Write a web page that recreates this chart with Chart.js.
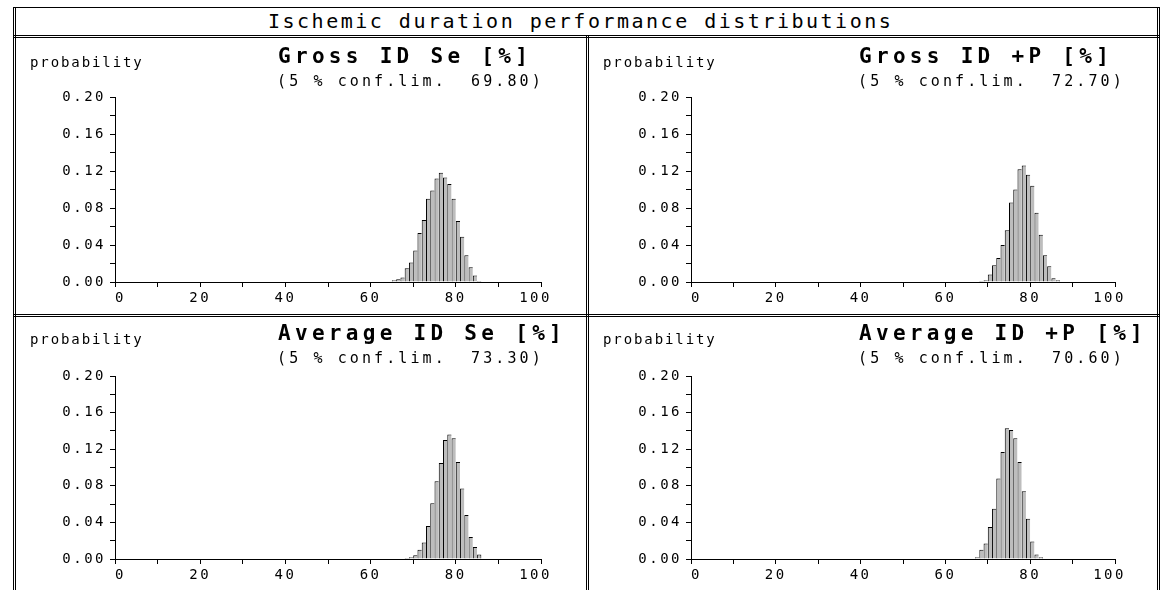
<!DOCTYPE html>
<html>
<head>
<meta charset="utf-8">
<script src="https://cdn.jsdelivr.net/npm/chart.js@4.4.0/dist/chart.umd.min.js"></script>
<style>
body{margin:0;background:#fff;width:1162px;height:590px;overflow:hidden;position:relative;font-family:"DejaVu Sans Mono",monospace;color:#000}
.hl{position:absolute;height:0;border-top:3px double #000}
.vl{position:absolute;width:0;border-left:3px double #000}
.t{position:absolute;white-space:pre;line-height:1}
.small{font-size:14px}
.sub{font-size:15px;letter-spacing:3.1px}
.big{font-size:21px;font-weight:bold;letter-spacing:4.3px}
.panel{position:absolute}
</style>
</head>
<body>
<!-- frame -->
<div style="position:absolute;left:13px;top:7px;width:1147px;height:1px;background:#000"></div>
<div class="vl" style="left:13px;top:7px;height:590px"></div>
<div class="vl" style="left:1157px;top:7px;height:590px"></div>
<div class="hl" style="left:13px;top:35px;width:1147px"></div>
<div class="hl" style="left:13px;top:314px;width:1147px"></div>
<div class="vl" style="left:586px;top:35px;height:560px"></div>

<div class="t" id="mainTitle" style="left:268px;top:11px;font-size:20px;letter-spacing:2.5px">Ischemic duration performance distributions</div>

<div class="panel" style="left:16px;top:38px"><canvas id="c1" width="570" height="276"></canvas></div>
<div class="panel" style="left:589px;top:38px"><canvas id="c2" width="568" height="276"></canvas></div>
<div class="panel" style="left:16px;top:317px"><canvas id="c3" width="570" height="273"></canvas></div>
<div class="panel" style="left:589px;top:317px"><canvas id="c4" width="568" height="273"></canvas></div>

<div id="labels"></div>

<script>
// bins are 1 % wide, value = lower edge of bin
var grossSeBins = [65,66,67,68,69,70,71,72,73,74,75,76,77,78,79,80,81,82,83,84,85];
var grossSeProb = [0.002,0.003,0.005,0.015,0.021,0.034,0.053,0.067,0.090,0.099,0.112,0.118,0.113,0.106,0.090,0.066,0.049,0.029,0.016,0.007,0.001];

var grossPBins = [68,69,70,71,72,73,74,75,76,77,78,79,80,81,82,83,84,85,86];
var grossPProb = [0.001,0.002,0.008,0.018,0.026,0.040,0.056,0.086,0.100,0.122,0.126,0.116,0.104,0.075,0.051,0.029,0.017,0.004,0.002];

var avgSeBins = [68,69,70,71,72,73,74,75,76,77,78,79,80,81,82,83,84,85];
var avgSeProb = [0.001,0.002,0.004,0.010,0.018,0.036,0.061,0.085,0.105,0.130,0.136,0.132,0.106,0.077,0.048,0.024,0.013,0.005];

var avgPBins = [67,68,69,70,71,72,73,74,75,76,77,78,79,80,81,82];
var avgPProb = [0.002,0.010,0.017,0.035,0.055,0.088,0.117,0.143,0.141,0.132,0.106,0.074,0.044,0.019,0.005,0.002];

var titles = ["Gross ID Se [%]", "Gross ID +P [%]", "Average ID Se [%]", "Average ID +P [%]"];
var confLims = ["69.80", "72.70", "73.30", "70.60"];
var yLabel = "probability";

var panels = [
	{id:"c1", bins:grossSeBins, prob:grossSeProb, x:16,  y:38,  yw:99,  pr:45, xh:32, tx:262},
	{id:"c2", bins:grossPBins,  prob:grossPProb,  x:589, y:38,  yw:102, pr:42, xh:32, tx:270},
	{id:"c3", bins:avgSeBins,   prob:avgSeProb,   x:16,  y:317, yw:99,  pr:45, xh:31, tx:262},
	{id:"c4", bins:avgPBins,    prob:avgPProb,    x:589, y:317, yw:102, pr:42, xh:31, tx:270}
];

var spacing = {
	id: "spacing",
	beforeUpdate: function(chart){ chart.ctx.letterSpacing = "2.5px"; },
	beforeDraw: function(chart){ chart.ctx.letterSpacing = "2.5px"; }
};

var tickFont = {family: "DejaVu Sans Mono", size: 14};

var html = "";
for (var i = 0; i < panels.length; i++) {
	var p = panels[i];
	var pts = [];
	for (var j = 0; j < p.bins.length; j++) {
		pts.push({x: p.bins[j] + 0.5, y: p.prob[j]});
	}
	var last = pts.length - 1;
	new Chart(document.getElementById(p.id), {
		type: "bar",
		data: {
			datasets: [{
				data: pts,
				backgroundColor: "#bdbdbd",
				borderColor: "#000",
				borderWidth: (function(n){
					return function(c){ return {top: 1, left: 1, bottom: 0, right: c.dataIndex === n ? 1 : 0}; };
				})(last),
				borderSkipped: false,
				barPercentage: 1,
				categoryPercentage: 1,
				inflateAmount: 0
			}]
		},
		options: {
			responsive: false,
			animation: false,
			layout: {padding: {left: 0, top: 59, right: p.pr, bottom: 0}},
			plugins: {legend: {display: false}, tooltip: {enabled: false}},
			scales: {
				x: {
					type: "linear", min: 0, max: 100, offset: false,
					afterFit: (function(h){ return function(s){ s.height = h; }; })(p.xh),
					border: {display: true, color: "#000", width: 1},
					grid: {offset: false, drawOnChartArea: false, drawTicks: true, tickLength: 5, tickColor: "#000", color: "#000"},
					ticks: {
						stepSize: 10, autoSkip: false, maxRotation: 0, padding: 3,
						color: "#000", font: tickFont,
						callback: function(v){
							if (v % 20 !== 0) return "";
							if (v === 0) return " 0";
							if (v === 100) return "100 ";
							return String(v);
						}
					}
				},
				y: {
					min: 0, max: 0.2,
					afterFit: (function(w){ return function(s){ s.width = w; }; })(p.yw),
					border: {display: true, color: "#000", width: 1},
					grid: {drawOnChartArea: false, drawTicks: true, tickLength: 5, tickColor: "#000", color: "#000"},
					ticks: {
						stepSize: 0.02, autoSkip: false, padding: 4,
						color: "#000", font: tickFont,
						callback: function(v){
							var k = Math.round(v * 100);
							return k % 4 === 0 ? (k / 100).toFixed(2) : "";
						}
					}
				}
			}
		},
		plugins: [spacing]
	});

	var dy = (i < 2) ? 0 : 277;
	html += '<div class="t small" style="left:' + (p.x + 14) + 'px;top:' + (55 + dy) + 'px;letter-spacing:1.9px">' + yLabel + '</div>';
	html += '<div class="t big" style="left:' + (p.x + p.tx) + 'px;top:' + (46 + dy) + 'px">' + titles[i] + '</div>';
	html += '<div class="t sub" style="left:' + (p.x + p.tx - 1) + 'px;top:' + (74 + dy) + 'px">(5 % conf.lim.  ' + confLims[i] + ')</div>';
}
document.getElementById("labels").innerHTML = html;
</script>
</body>
</html>
